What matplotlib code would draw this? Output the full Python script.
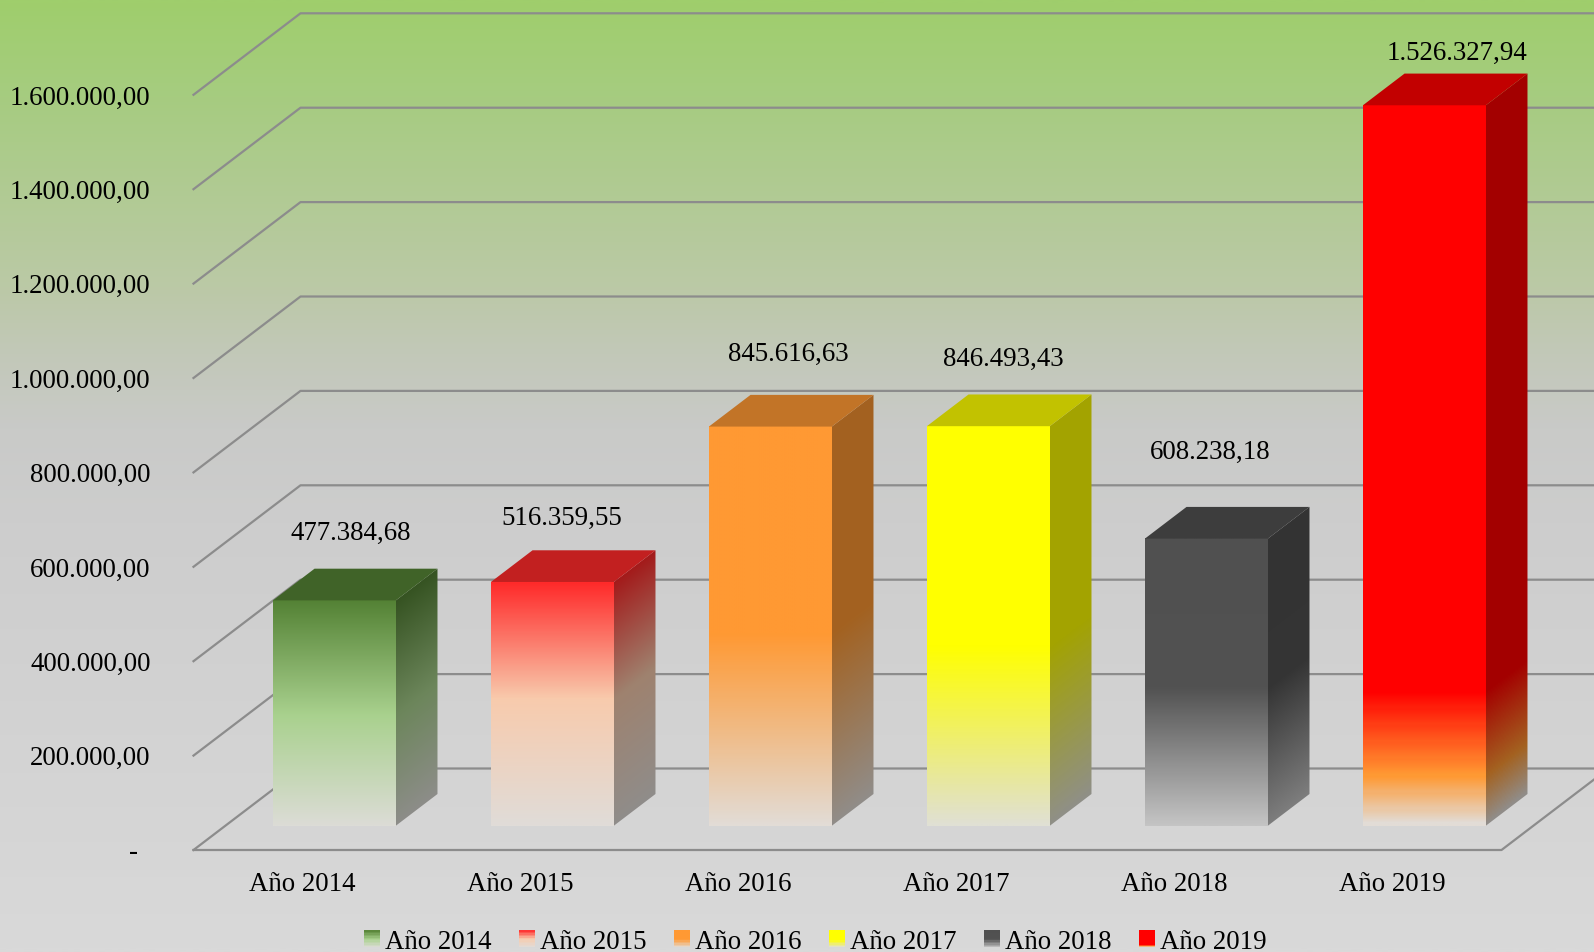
import numpy as np
import matplotlib
matplotlib.use('Agg')
import matplotlib.pyplot as plt
from matplotlib.colors import LinearSegmentedColormap, to_rgb
from matplotlib.patches import Polygon, Rectangle, Patch
from matplotlib.legend_handler import HandlerBase

plt.rcParams['font.family'] = ['Liberation Serif', 'DejaVu Serif']

# data
years = ['Año 2014', 'Año 2015', 'Año 2016', 'Año 2017', 'Año 2018', 'Año 2019']
values = [477384.68, 516359.55, 845616.63, 846493.43, 608238.18, 1526327.94]
ticks = [0, 200000, 400000, 600000, 800000, 1000000, 1200000, 1400000, 1600000]

# gradient of each bar front, from bottom (0) to top (1)
gradients = [
    [(0.0, '#dcdcd6'), (0.49, '#a9d18e'), (1.0, '#548235')],
    [(0.0, '#e0dcd8'), (0.52, '#f8cbad'), (1.0, '#ff2a2a')],
    [(0.0, '#e2dcd6'), (0.48, '#ff9933'), (1.0, '#ff9933')],
    [(0.0, '#e0e0d4'), (0.45, '#ffff00'), (1.0, '#ffff00')],
    [(0.0, '#c4c4c4'), (0.48, '#525252'), (1.0, '#505050')],
    [(0.0, '#e2dcd6'), (0.067, '#ff9933'), (0.185, '#ff0000'), (1.0, '#ff0000')],
]
# label offsets from the bar's front top centre, in pixels (x right, y up)
label_dx = [16.7, 9.2, 18.4, 15.4, 3.7, 32.1]
label_dy = [70.6, 67.0, 75.2, 70.2, 89.9, 55.2]


def fmt(v):
    s = '{:,.2f}'.format(v)
    return s.replace(',', '#').replace('.', ',').replace('#', '.')


def tick_fmt(v):
    return '-' if v == 0 else fmt(v)


# geometry (figure is 1594 x 953 px)
W_PX, H_PX = 1594, 953
CAT_PX = 218.0
X0_PX = 302.5
VPX = 200000 / 94.4
Y0_PX = 851.0
XMIN = -X0_PX / CAT_PX
XMAX = (W_PX - X0_PX) / CAT_PX
YMIN = -(H_PX - Y0_PX) * VPX
YMAX = Y0_PX * VPX
DX = 107 / CAT_PX
DY = 81.5 * VPX
F0 = 0.298
DEPTH = 0.389
BW = 0.564
FS = 19.4
n = len(values)

fig = plt.figure(figsize=(W_PX / 100, H_PX / 100), dpi=100)
ax = fig.add_axes([0, 0, 1, 1])
ax.axis('off')

# background
bg = LinearSegmentedColormap.from_list('bg', [
    (0.0, '#9fce6c'), (0.1, '#a6cc80'), (0.3, '#bbc9a6'), (0.37, '#c2c8b8'),
    (0.45, '#c9cac8'), (0.55, '#cdcdcd'), (1.0, '#d9d9d9')])
ax.imshow(bg(np.linspace(0, 1, 400))[:, None, :3], extent=(XMIN, XMAX, YMIN, YMAX),
          origin='upper', aspect='auto', zorder=0, interpolation='bilinear')

# walls and floor
gc = '#8c8c8c'
for t in ticks:
    ax.plot([-0.5, -0.5 + DX, n + 1], [t, t + DY, t + DY], color=gc, lw=1.6, zorder=1)
ax.plot([-0.5, n - 0.5, n - 0.5 + DX * 2], [0, 0, DY * 2], color=gc, lw=1.6, zorder=1)

# bars
ddx = DEPTH * DX
ddy = DEPTH * DY
base = F0 * DY
for i, (v, stops) in enumerate(zip(values, gradients)):
    cmap = LinearSegmentedColormap.from_list('g%d' % i, stops)
    x0 = i - BW / 2 + F0 * DX
    x1 = x0 + BW
    # front
    front = cmap(np.linspace(0, 1, 300))[:, None, :3]
    ax.imshow(front, extent=(x0, x1, base, base + v), origin='lower',
              aspect='auto', zorder=3, interpolation='bilinear')
    # side
    xs = np.linspace(0, 1, 60)
    ys = np.linspace(base, base + v + ddy, 400)
    X, Y = np.meshgrid(xs, ys)
    frac = np.clip((Y - base - X * ddy) / v, 0, 1)
    side = cmap(frac)[:, :, :3] * 0.64
    im = ax.imshow(side, extent=(x1, x1 + ddx, base, base + v + ddy), origin='lower',
                   aspect='auto', zorder=3, interpolation='bilinear')
    clip = Polygon([(x1, base), (x1 + ddx, base + ddy), (x1 + ddx, base + v + ddy), (x1, base + v)],
                   closed=True, transform=ax.transData)
    im.set_clip_path(clip)
    # top
    topc = np.array(to_rgb(cmap(1.0))) * 0.76
    ax.add_patch(Polygon([(x0, base + v), (x1, base + v), (x1 + ddx, base + v + ddy), (x0 + ddx, base + v + ddy)],
                         closed=True, facecolor=topc, edgecolor='none', zorder=4))
    # value label
    ax.annotate(fmt(v), xy=(i + F0 * DX, base + v), xytext=(label_dx[i] * 0.72, (label_dy[i] - 8.8) * 0.72),
                textcoords='offset points', ha='center', va='baseline', fontsize=FS, zorder=5)

# axis labels
for t in ticks:
    if t == 0:
        ax.text((133 - X0_PX) / CAT_PX, t - 8.0 * VPX, tick_fmt(t), ha='center', va='baseline', fontsize=FS)
    else:
        ax.text((150.7 - X0_PX) / CAT_PX, t - 8.8 * VPX, tick_fmt(t), ha='right', va='baseline', fontsize=FS)
for i, y in enumerate(years):
    ax.text(i, -(890.7 - Y0_PX) * VPX, y, ha='center', va='baseline', fontsize=FS)

ax.set_xlim(XMIN, XMAX)
ax.set_ylim(YMIN, YMAX)


# legend with small gradient keys
class GradHandler(HandlerBase):
    def __init__(self, cmap):
        super().__init__()
        self.cmap = cmap

    def create_artists(self, legend, orig_handle, xdescent, ydescent, width, height, fontsize, trans):
        arts = []
        k = 12
        for j in range(k):
            c = self.cmap((j + 0.5) / k)
            arts.append(Rectangle((-xdescent, -ydescent + height * j / k), width, height / k + 0.3,
                                  facecolor=c, edgecolor='none', transform=trans))
        return arts


handles = [Patch(label=y) for y in years]
hmap = {h: GradHandler(LinearSegmentedColormap.from_list('l%d' % i, gradients[i]))
        for i, h in enumerate(handles)}
fig.legend(handles=handles, handler_map=hmap, loc='center', ncol=6, frameon=False,
           bbox_to_anchor=(815.5 / W_PX, 1 - 943 / H_PX), fontsize=FS,
           handlelength=0.58, handleheight=0.58, handletextpad=0.2, columnspacing=1.02,
           borderpad=0, borderaxespad=0)

fig.savefig('out.png', dpi=100)
